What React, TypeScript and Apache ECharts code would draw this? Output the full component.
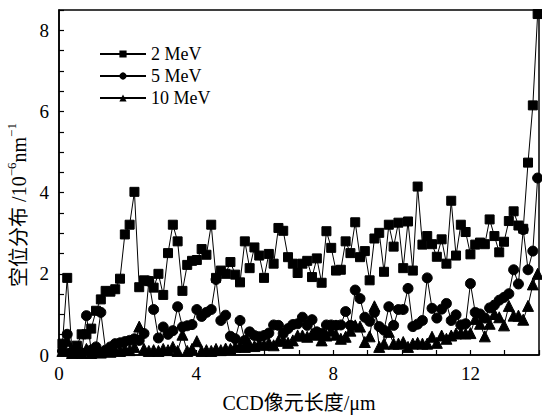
import React, { useEffect, useRef } from "react";
import * as echarts from "echarts";

// sampling of CCD pixel positions (µm): x = X_START + i * X_STEP
const X_START = 0.1;
const X_STEP = 0.14;

const seriesNames = ["2 MeV", "5 MeV", "10 MeV"];

const mev2 = [
  0.28, 1.9, 0.05, 0.23, 0.51, 0.51, 0.65, 1.09, 1.37, 1.58,
  1.56, 1.62, 1.88, 2.97, 3.21, 4.02, 1.67, 1.84, 1.82, 1.66,
  2.0, 1.48, 2.51, 3.21, 2.8, 1.58, 2.22, 2.32, 2.34, 2.61,
  2.47, 3.21, 1.9, 2.08, 2.0, 2.29, 1.98, 1.79, 2.8, 2.14,
  2.65, 2.45, 1.9, 2.49, 2.25, 3.13, 3.06, 2.41, 2.25, 2.02,
  2.25, 2.32, 1.92, 2.38, 1.78, 3.05, 2.64, 2.08, 2.1, 2.8,
  2.51, 3.27, 2.41, 2.56, 1.84, 2.87, 3.01, 2.05, 3.21, 2.67,
  3.26, 2.14, 3.29, 2.08, 4.15, 2.72, 2.93, 2.73, 2.42, 2.85,
  2.25, 3.8, 2.45, 3.21, 3.03, 2.48, 2.72, 2.77, 2.73, 3.34,
  2.93, 2.53, 2.79, 3.3, 3.54, 3.19, 3.11, 4.74, 6.15, 8.4,
];

const mev5 = [
  0.1, 0.51, 0.08, 0.12, 0.05, 0.97, 0.12, 0.2, 1.05, 0.12,
  0.2, 0.28, 0.3, 0.33, 0.36, 0.4, 0.36, 0.53, 1.82, 1.12,
  0.42, 0.69, 0.51, 0.6, 1.19, 0.69, 0.72, 0.75, 1.12, 0.95,
  1.05, 1.12, 1.86, 0.85, 0.98, 0.46, 0.4, 0.85, 0.36, 0.57,
  0.48, 0.45, 0.48, 0.54, 0.74, 0.73, 0.53, 0.65, 0.75, 0.77,
  0.93, 0.73, 0.87, 0.57, 0.53, 0.74, 0.74, 0.73, 0.74, 1.07,
  0.73, 1.6, 1.39, 0.93, 0.83, 1.05, 0.7, 0.61, 1.19, 0.73,
  1.12, 1.12, 1.64, 0.7, 0.76, 0.85, 1.9, 1.15, 0.91, 1.13,
  1.27, 0.85, 0.99, 0.74, 0.77, 1.76, 1.05, 1.01, 0.91, 1.16,
  1.23, 1.35, 1.42, 1.51, 2.1, 1.75, 3.09, 2.1, 2.56, 4.36,
];

const mev10 = [
  0.1, 0.35, 0.05, 0.1, 0.05, 0.15, 0.05, 0.1, 0.06, 0.1,
  0.08, 0.12, 0.1, 0.15, 0.12, 0.2, 0.7, 0.15, 0.1, 0.12,
  0.1, 0.15, 0.12, 0.2, 0.1, 0.5, 0.1, 0.15, 0.34, 0.1,
  0.12, 0.1, 0.15, 0.12, 0.16, 0.15, 0.2, 0.22, 0.2, 0.25,
  0.22, 0.28, 0.25, 0.3, 0.24, 0.35, 0.36, 0.3, 0.36, 0.48,
  0.48, 0.45, 0.52, 0.5, 0.36, 0.48, 0.6, 0.5, 0.4, 0.45,
  0.6, 0.73, 0.7, 0.32, 0.46, 1.2, 0.2, 0.28, 0.57, 0.28,
  0.28, 0.32, 0.2, 0.28, 0.3, 0.28, 0.28, 0.45, 0.3, 0.48,
  0.4, 0.48, 0.53, 0.54, 0.53, 0.54, 0.89, 0.77, 0.46, 0.77,
  1.01, 0.93, 0.73, 1.21, 0.97, 0.97, 0.87, 1.21, 1.74, 2.0,
];

const xTickLabels = [0, 4, 8, 12];
const yTickLabels = [0, 2, 4, 6, 8];

const FONT = '"Liberation Serif", "Noto Sans CJK SC", serif';

function toPairs(vals: number[]) {
  return vals.map((v, i) => [X_START + i * X_STEP, v]);
}

export default function App() {
  const ref = useRef<HTMLDivElement>(null);
  useEffect(() => {
    document.body.style.margin = "0";
    const chart = echarts.init(ref.current!, null, { renderer: "svg" });
    const symbols = ["rect", "circle", "triangle"];
    const sizes = [9, 10, 11];
    const all = [mev2, mev5, mev10];
    chart.setOption({
      animation: false,
      backgroundColor: "#fff",
      textStyle: { fontFamily: FONT, color: "#000" },
      grid: {
        left: 59,
        right: 1,
        top: 10,
        bottom: 56,
        show: true,
        borderColor: "#000",
        borderWidth: 1.5,
      },
      legend: {
        orient: "vertical",
        left: 94,
        top: 40,
        itemWidth: 46,
        itemHeight: 9,
        itemGap: 4,
        textStyle: { fontFamily: FONT, fontSize: 18, color: "#000" },
        data: seriesNames,
      },
      xAxis: {
        type: "value",
        min: 0,
        max: 14,
        interval: 1,
        axisLine: { show: true, lineStyle: { color: "#000", width: 1.5 } },
        axisTick: { show: true, inside: true, length: 5, lineStyle: { color: "#000", width: 1.2 } },
        splitLine: { show: false },
        axisLabel: {
          fontFamily: FONT,
          fontSize: 19,
          color: "#000",
          margin: 9,
          formatter: (v: number) => (xTickLabels.includes(v) ? String(v) : ""),
        },
        name: "CCD像元长度/μm",
        nameLocation: "middle",
        nameGap: 38,
        nameTextStyle: { fontFamily: FONT, fontSize: 20, color: "#000" },
      },
      yAxis: {
        type: "value",
        min: 0,
        max: 8.5,
        interval: 0.5,
        axisLine: { show: true, lineStyle: { color: "#000", width: 1.5 } },
        axisTick: { show: true, inside: true, length: 5, lineStyle: { color: "#000", width: 1.2 } },
        splitLine: { show: false },
        axisLabel: {
          fontFamily: FONT,
          fontSize: 19,
          color: "#000",
          margin: 10,
          formatter: (v: number) => (yTickLabels.includes(v) ? String(v) : ""),
        },
      },
      graphic: [
        {
          type: "text",
          x: 17,
          y: 205,
          rotation: Math.PI / 2,
          style: {
            text: "{a|空位分布 /10}{s|−6}{a|nm}{s|−1}",
            align: "center",
            verticalAlign: "middle",
            fill: "#000",
            rich: {
              a: { fontFamily: FONT, fontSize: 20, fill: "#000", color: "#000", verticalAlign: "bottom", lineHeight: 24 },
              s: { fontFamily: FONT, fontSize: 13, fill: "#000", color: "#000", verticalAlign: "top", lineHeight: 24 },
            },
          },
        },
      ],
      series: all.map((vals, k) => ({
        name: seriesNames[k],
        type: "line",
        data: toPairs(vals),
        symbol: symbols[k],
        symbolSize: sizes[k],
        showAllSymbol: true,
        clip: true,
        lineStyle: { color: "#000", width: 1 },
        itemStyle: { color: "#000", borderColor: "#000" },
        z: 3 - k,
      })),
    });
    return () => chart.dispose();
  }, []);
  return <div ref={ref} style={{ width: 542, height: 418, position: "absolute", left: 0, top: 0 }} />;
}
